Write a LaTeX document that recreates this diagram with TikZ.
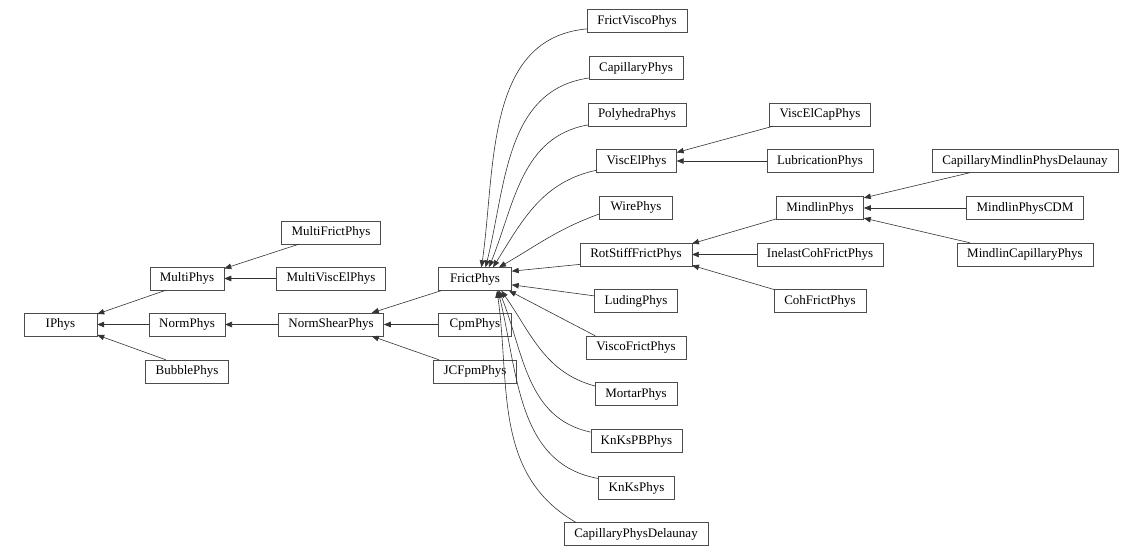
\documentclass[tikz,border=0pt]{standalone}
\usepackage{fontspec}
\setmainfont{Liberation Serif}
\usetikzlibrary{arrows.meta}
\tikzset{
	cls/.style={draw=black!70, fill=white, rectangle, minimum height=23pt, minimum width=73pt, inner xsep=10pt, inner ysep=0pt, font=\fontsize{13}{14}\selectfont},
	inh/.style={draw=black!80, line width=0.6pt, -{Triangle[length=7pt,width=5.5pt]}}
}

\begin{document}
\begin{tikzpicture}[x=1pt, y=-1pt]
				\useasboundingbox (0,0) rectangle (1142,556);
				
				% first columns
				\node[cls] (iphys) at (60.5,324.5) {IPhys};
				\node[cls] (multiphys) at (187,278.5) {MultiPhys};
				\node[cls] (normphys) at (187,324.5) {NormPhys};
				\node[cls] (bubblephys) at (187,371.5) {BubblePhys};
				\node[cls] (multifrict) at (331,232.5) {MultiFrictPhys};
				\node[cls] (multiviscel) at (331,278.5) {MultiViscElPhys};
				\node[cls] (normshear) at (331,324.5) {NormShearPhys};
				\node[cls] (frictphys) at (475,279) {FrictPhys};
				\node[cls] (cpmphys) at (475,324.5) {CpmPhys};
				\node[cls] (jcfpm) at (475,371.5) {JCFpmPhys};
				
				% children of FrictPhys
				\node[cls] (frictvisco) at (637,21) {FrictViscoPhys};
				\node[cls] (capillary) at (636,68) {CapillaryPhys};
				\node[cls] (polyhedra) at (637,114.5) {PolyhedraPhys};
				\node[cls] (viscel) at (636.5,161) {ViscElPhys};
				\node[cls] (wire) at (636,207.5) {WirePhys};
				\node[cls] (rotstiff) at (636,254.5) {RotStiffFrictPhys};
				\node[cls] (luding) at (636,301) {LudingPhys};
				\node[cls] (viscofrict) at (636,347.5) {ViscoFrictPhys};
				\node[cls] (mortar) at (636,394) {MortarPhys};
				\node[cls] (knkspb) at (636.5,441) {KnKsPBPhys};
				\node[cls] (knks) at (636.5,488) {KnKsPhys};
				\node[cls] (capdelaunay) at (636,534) {CapillaryPhysDelaunay};
				
				% right columns
				\node[cls] (viscelcap) at (820,114.5) {ViscElCapPhys};
				\node[cls] (lubrication) at (820,161) {LubricationPhys};
				\node[cls] (mindlin) at (820,208) {MindlinPhys};
				\node[cls] (inelastcoh) at (820,254.5) {InelastCohFrictPhys};
				\node[cls] (cohfrict) at (820,301) {CohFrictPhys};
				\node[cls] (capmindlindel) at (1025,161) {CapillaryMindlinPhysDelaunay};
				\node[cls] (mindlincdm) at (1025,208) {MindlinPhysCDM};
				\node[cls] (mindlincap) at (1025,254.5) {MindlinCapillaryPhys};
				
				% straight edges
				\draw[inh] (multiphys.209) -- (iphys.16);
				\draw[inh] (normphys.west) -- (iphys.east);
				\draw[inh] (bubblephys.151) -- (iphys.-16);
				\draw[inh] (multifrict.200) -- (multiphys.15);
				\draw[inh] (multiviscel.west) -- (multiphys.east);
				\draw[inh] (normshear.west) -- (normphys.east);
				\draw[inh] (frictphys.199) -- (normshear.16);
				\draw[inh] (cpmphys.west) -- (normshear.east);
				\draw[inh] (jcfpm.162) -- (normshear.-16);
				\draw[inh] (rotstiff.190) -- (frictphys.12);
				\draw[inh] (luding.173) -- (frictphys.-9);
				\draw[inh] (viscofrict.164) -- (frictphys.-19);
				\draw[inh] (viscelcap.194) -- (viscel.12);
				\draw[inh] (lubrication.west) -- (viscel.east);
				\draw[inh] (mindlin.194) -- (rotstiff.11);
				\draw[inh] (inelastcoh.west) -- (rotstiff.east);
				\draw[inh] (cohfrict.166) -- (rotstiff.-11);
				\draw[inh] (capmindlindel.192) -- (mindlin.13);
				\draw[inh] (mindlincdm.west) -- (mindlin.east);
				\draw[inh] (mindlincap.168) -- (mindlin.-13);
				
				% curved edges into FrictPhys
				\draw[inh] (frictvisco.189) to[out=185, in=82] (frictphys.61);
				\draw[inh] (capillary.192) to[out=188, in=76] (frictphys.48);
				\draw[inh] (polyhedra.192) to[out=190, in=68] (frictphys.40);
				\draw[inh] (viscel.193) to[out=192, in=58] (frictphys.33);
				\draw[inh] (wire.190) to[out=200, in=30] (frictphys.26);
				\draw[inh] (mortar.169) to[out=165, in=-55] (frictphys.-24);
				\draw[inh] (knkspb.169) to[out=168, in=-68] (frictphys.-26);
				\draw[inh] (knks.166) to[out=170, in=-76] (frictphys.-27);
				\draw[inh] (capdelaunay.169) to[out=150, in=-82] (frictphys.-28);
\end{tikzpicture}
\end{document}
